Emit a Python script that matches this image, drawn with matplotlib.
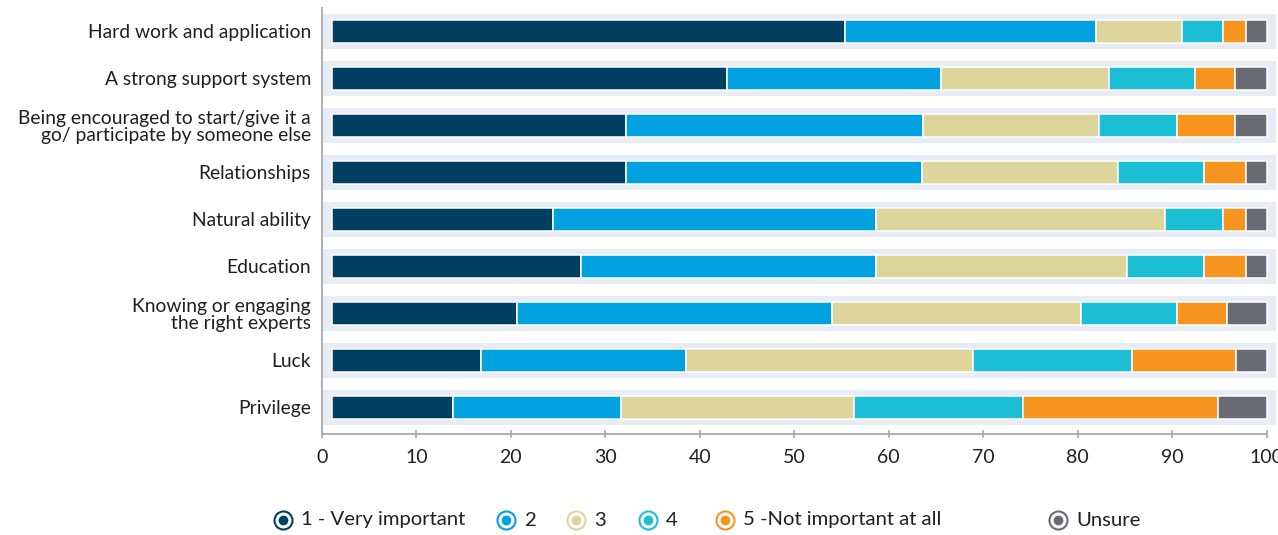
import matplotlib
matplotlib.use('Agg')
import matplotlib.pyplot as plt
from matplotlib.lines import Line2D
import numpy as np

plt.rcParams['font.family'] = ['Lato', 'DejaVu Sans']

# survey factors, top to bottom
categories = [
    'Hard work and application',
    'A strong support system',
    'Being encouraged to start/give it a\ngo/ participate by someone else',
    'Relationships',
    'Natural ability',
    'Education',
    'Knowing or engaging\nthe right experts',
    'Luck',
    'Privilege',
]

# segment widths per rating (axis units)
very_important = [54.3, 41.8, 31.1, 31.1, 23.4, 26.3, 19.5, 15.7, 12.8]
rating_2 = [26.5, 22.6, 31.4, 31.3, 34.2, 31.3, 33.4, 21.7, 17.8]
rating_3 = [9.2, 17.8, 18.7, 20.8, 30.5, 26.5, 26.4, 30.4, 24.6]
rating_4 = [4.3, 9.1, 8.2, 9.1, 6.2, 8.2, 10.1, 16.9, 17.9]
not_important = [2.4, 4.3, 6.2, 4.4, 2.4, 4.4, 5.3, 11.0, 20.7]
unsure = [2.2, 3.3, 3.3, 2.2, 2.2, 2.2, 4.2, 3.2, 5.1]

series = [very_important, rating_2, rating_3, rating_4, not_important, unsure]
legend_labels = ['1 - Very important', '2', '3', '4', '5 -Not important at all', 'Unsure']
colors = ['#003F62', '#00A1E0', '#DED59C', '#1CBED6', '#F7941F', '#686B74']

bar_start = 1.1
text_color = '#231F20'
axis_grey = '#A7A9AC'

W, H = 1278, 535
fig = plt.figure(figsize=(W / 100, H / 100), dpi=100)
ax = fig.add_axes([322 / W, 1 - 434 / H, (1276 - 322) / W, 426 / H])

y = np.arange(len(categories))

# light background band behind each row
ax.barh(y, 101, left=0, height=0.745, color='#E8ECF4', zorder=1)

left = np.full(len(categories), bar_start)
for vals, col in zip(series, colors):
    vals = np.array(vals)
    ax.barh(y, vals, left=left, height=0.48, color=col,
            edgecolor='white', linewidth=1.1, zorder=2)
    left = left + vals

ax.set_xlim(0, 101)
ax.set_ylim(len(categories) - 1 + 0.564, -0.5)

ax.set_yticks(y)
ax.set_yticklabels(categories, fontsize=13.9, color=text_color, linespacing=1.0)
ax.tick_params(axis='y', length=0, pad=8)

ax.set_xticks(np.arange(0, 101, 10))
ax.tick_params(axis='x', direction='inout', length=6, width=1.2, color=axis_grey,
               labelsize=14, labelcolor=text_color, pad=7.5)

for s in ['top', 'right']:
    ax.spines[s].set_visible(False)
ax.spines['left'].set_color(axis_grey)
ax.spines['bottom'].set_color(axis_grey)
ax.spines['left'].set_linewidth(1.3)
ax.spines['bottom'].set_linewidth(1.3)
ax.spines['bottom'].set_bounds(0, 100)

# legend drawn by hand: ring marker with filled dot
legend_x = [283, 506, 576, 648, 725, 1058]
legend_y = 1 - 520 / H
for px, lab, col in zip(legend_x, legend_labels, colors):
    fx = px / W
    fig.add_artist(Line2D([fx], [legend_y], transform=fig.transFigure, marker='o',
                          markersize=13, markerfacecolor='white', markeredgecolor=col,
                          markeredgewidth=1.5, linestyle='none'))
    fig.add_artist(Line2D([fx], [legend_y], transform=fig.transFigure, marker='o',
                          markersize=6, markerfacecolor=col, markeredgecolor=col,
                          linestyle='none'))
    fig.text((px + 18) / W, legend_y, lab, fontsize=14.6, color=text_color,
             ha='left', va='center')

fig.savefig('out.png', dpi=100)
